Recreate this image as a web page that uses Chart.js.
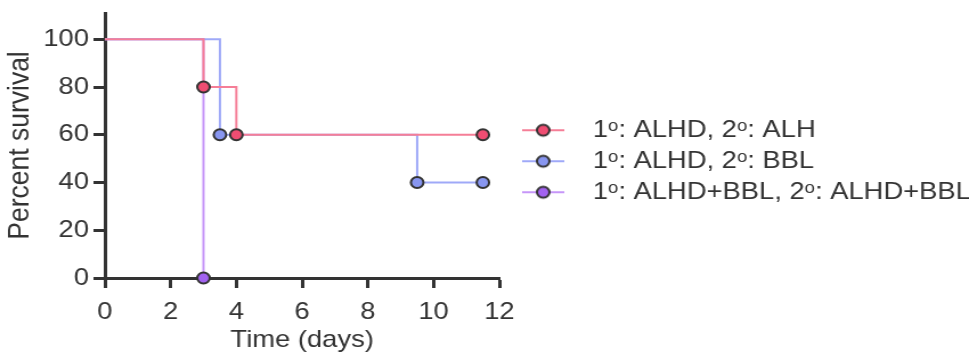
<!DOCTYPE html>
<html>
<head>
<meta charset="utf-8">
<script src="https://cdn.jsdelivr.net/npm/chart.js@4/dist/chart.umd.min.js"></script>
<style>
  html, body { margin: 0; padding: 0; background: #fff; }
</style>
</head>
<body>
<!-- the reference is a little stretched sideways, so draw narrower and widen with css -->
<canvas id="survival" width="850" height="362" style="width:969px;height:362px"></canvas>
<script>
// survival curves (time in days, percent surviving)
var seriesNames = ['1ᵒ: ALHD, 2ᵒ: ALH', '1ᵒ: ALHD, 2ᵒ: BBL', '1ᵒ: ALHD+BBL, 2ᵒ: ALHD+BBL'];
var alhTimes = [0, 3, 4, 11.5];
var alhSurvival = [100, 80, 60, 60];
var bblTimes = [0, 3.5, 9.5, 11.5];
var bblSurvival = [100, 60, 40, 40];
var comboTimes = [0, 3];
var comboSurvival = [100, 0];

var yTicks = [0, 20, 40, 60, 80, 100];
var xTicks = [0, 2, 4, 6, 8, 10, 12];

var ink = '#333333';
var font = "'Liberation Sans', Arial, sans-serif";

function toPoints(times, values) {
  return times.map(function (t, i) { return { x: t, y: values[i] }; });
}

// little line-with-dot picture for the legend
function swatch(line, fill) {
  var c = document.createElement('canvas');
  c.width = 37; c.height = 16;
  var g = c.getContext('2d');
  g.strokeStyle = line; g.lineWidth = 2;
  g.beginPath(); g.moveTo(0, 8); g.lineTo(37, 8); g.stroke();
  g.fillStyle = fill; g.strokeStyle = ink; g.lineWidth = 2;
  g.beginPath(); g.arc(18.5, 8, 5.5, 0, Math.PI * 2); g.fill(); g.stroke();
  return c;
}

var lineColors = ['#f57e97', '#9fa9f8', '#c696f8'];
var dotColors = ['#ef4d72', '#8896f0', '#a262f0'];

function curve(idx, times, values) {
  return {
    label: seriesNames[idx],
    data: toPoints(times, values),
    stepped: 'before',
    borderColor: lineColors[idx],
    borderWidth: 2,
    backgroundColor: dotColors[idx],
    pointStyle: 'circle',
    pointBackgroundColor: dotColors[idx],
    pointBorderColor: ink,
    pointBorderWidth: 2,
    pointRadius: function (ctx) { return ctx.dataIndex === 0 ? 0 : 5.5; },
    clip: false
  };
}

var ctx = document.getElementById('survival').getContext('2d');
var chart = new Chart(ctx, {
  type: 'line',
  data: {
    datasets: [
      curve(0, alhTimes, alhSurvival),
      curve(1, bblTimes, bblSurvival),
      curve(2, comboTimes, comboSurvival)
    ]
  },
  options: {
    responsive: false,
    animation: false,
    layout: { padding: { top: 13, left: 0, right: 0, bottom: 0 } },
    plugins: {
      tooltip: { enabled: false },
      legend: {
        position: 'right',
        fullSize: false,
        maxWidth: 412,
        title: { display: true, text: '', font: { size: 12 }, padding: { top: 17, bottom: 0 } },
        labels: {
          usePointStyle: true,
          pointStyleWidth: 63,
          padding: 7,
          color: ink,
          font: { family: font, size: 24 },
          generateLabels: function (chart) {
            return chart.data.datasets.map(function (ds, i) {
              return {
                text: ds.label,
                pointStyle: swatch(lineColors[i], dotColors[i]),
                fontColor: ink,
                datasetIndex: i,
                lineWidth: 0
              };
            });
          }
        }
      }
    },
    scales: {
      x: {
        type: 'linear',
        min: 0,
        max: 12,
        afterFit: function (s) { s.height = 84; },
        afterBuildTicks: function (s) { s.ticks = xTicks.map(function (v) { return { value: v }; }); },
        border: { display: true, color: ink, width: 3 },
        grid: { display: true, drawOnChartArea: false, drawTicks: true, tickLength: 10, tickWidth: 3, tickColor: ink },
        ticks: { color: ink, font: { family: font, size: 24 }, padding: 10, maxRotation: 0 },
        title: { display: true, text: 'Time (days)', color: ink, font: { family: font, size: 24 }, padding: { top: 0, bottom: 7 } }
      },
      y: {
        min: 0,
        max: 111,
        afterFit: function (s) { s.width = 92; s.paddingTop = 0; },
        afterBuildTicks: function (s) { s.ticks = yTicks.map(function (v) { return { value: v }; }); },
        border: { display: true, color: ink, width: 3 },
        grid: { display: true, drawOnChartArea: false, drawTicks: true, tickLength: 10, tickWidth: 3, tickColor: ink },
        ticks: { color: ink, font: { family: font, size: 24 }, padding: 4 },
        title: { display: true, text: 'Percent survival', color: ink, font: { family: font, size: 26.5 }, padding: { top: 1.5, bottom: 0 } }
      }
    }
  }
});
</script>
</body>
</html>
